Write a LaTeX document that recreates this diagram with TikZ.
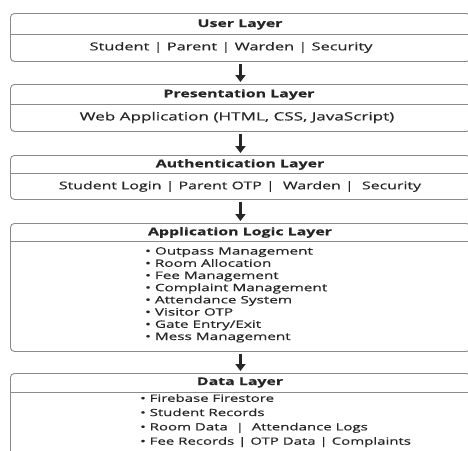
\documentclass[tikz,border=0pt]{standalone}
\usepackage{fontspec}
\setmainfont{Open Sans}[FakeStretch=1.5, UprightFeatures={FakeBold=0.5}, BoldFeatures={FakeBold=0.3}]
\usetikzlibrary{arrows.meta}
\definecolor{frame}{HTML}{8A8A8A}
\definecolor{ink}{HTML}{262626}
\tikzset{
  layerbox/.style={draw=frame, line width=0.9pt, rounded corners=4pt, anchor=north west, inner sep=0pt},
  divider/.style={draw=frame, line width=0.9pt},
  title/.style={font=\fontsize{10.6}{13}\selectfont\bfseries, text=ink, inner sep=0pt},
  body/.style={font=\fontsize{10.9}{13}\selectfont, text=ink, inner sep=0pt},
  listing/.style={font=\fontsize{10}{12}\selectfont, text=ink, inner sep=0pt, anchor=north west, align=left},
  flow/.style={draw=ink, fill=ink, line width=2.8pt, -{Triangle[width=10pt,length=7pt]}, shorten <=2pt, shorten >=2pt},
}
\begin{document}
\begin{tikzpicture}[x=1pt,y=-1pt]
\useasboundingbox (0,0) rectangle (468,450);
\fill[white] (0,0) rectangle (468,450);
\begin{scope}
\clip (0,0) rectangle (468,450);
% layer frames
\node[layerbox, minimum width=460pt, minimum height=48pt] (user) at (10,13) {};
\node[layerbox, minimum width=460pt, minimum height=47pt] (pres) at (10,84) {};
\node[layerbox, minimum width=460pt, minimum height=44pt] (auth) at (10,155) {};
\node[layerbox, minimum width=460pt, minimum height=128pt] (logic) at (10,223) {};
\node[layerbox, minimum width=460pt, minimum height=100pt] (data) at (10,373) {};
% header dividers
\draw[divider] (10,34) -- (470,34);
\draw[divider] (10,104) -- (470,104);
\draw[divider] (10,173) -- (470,173);
\draw[divider] (10,241) -- (470,241);
\draw[divider] (10,392) -- (470,392);
% headers
\node[title] (userT) at (240,24.5) {User Layer};
\node[title] (presT) at (239,94.5) {Presentation Layer};
\node[title] (authT) at (240,164.5) {Authentication Layer};
\node[title] (logicT) at (240,232.5) {Application Logic Layer};
\node[title] (dataT) at (240,382.5) {Data Layer};
% contents
\node[body] (userB) at (231,47.5) {Student | Parent | Warden | Security};
\node[body, font=\fontsize{11.4}{13}\selectfont] (presB) at (237,117.5) {Web Application (HTML, CSS, JavaScript)};
\node[body, font=\fontsize{10.6}{13}\selectfont] (authB) at (240,186.5) {Student Login | Parent OTP | \ Warden | \ Security};
\node[listing, font=\fontsize{10.2}{12.2}\selectfont] (logicB) at (145,247) {%
• Outpass Management\\
• Room Allocation\\
• Fee Management\\
• Complaint Management\\
• Attendance System\\
• Visitor OTP\\
• Gate Entry/Exit\\
• Mess Management};
\node[listing, font=\fontsize{10}{14.3}\selectfont] (dataB) at (140,394) {%
• Firebase Firestore\\
• Student Records\\
• Room Data \ | \ Attendance Logs\\
• Fee Records | OTP Data | Complaints};
\end{scope}
% flow between layers
\draw[flow] (user.south) -- (pres.north);
\draw[flow] (pres.south) -- (auth.north);
\draw[flow] (auth.south) -- (logic.north);
\draw[flow] (logic.south) -- (data.north);
\end{tikzpicture}
\end{document}
